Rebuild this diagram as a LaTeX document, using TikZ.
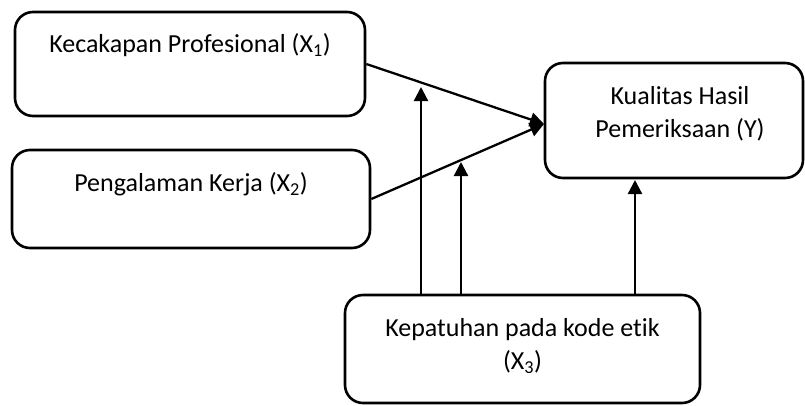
\documentclass[tikz,border=0pt]{standalone}
\usepackage{fontspec}
\setmainfont{Carlito}[Ligatures = NoCommon]
\usetikzlibrary{arrows.meta}
\begin{document}
\begin{tikzpicture}[x = 1pt, y = -1pt,
	box/.style = {draw, line width = 2.6pt, rounded corners = 18pt, inner sep = 0pt},
	arr/.style = {line width = 2.3pt, -{Triangle[length = 14pt, width = 14pt]}},
	every label/.style = {font = \fontsize{26}{33}\selectfont, align = center}]
				%	canvas
				\useasboundingbox (0, 0) rectangle (805, 405);
				
				%	boxes
				\node[box, minimum width = 350pt, minimum height = 104pt,
					label = {[yshift = 19pt]center:Kecakapan Profesional (X\textsubscript{1})}] (X1) at (190, 64) {};
				\node[box, minimum width = 358pt, minimum height = 98pt,
					label = {[yshift = 15pt]center:Pengalaman Kerja (X\textsubscript{2})}] (X2) at (191, 199) {};
				\node[box, minimum width = 258pt, minimum height = 115pt,
					label = {[xshift = 6pt, yshift = 7pt]center:Kualitas Hasil\\Pemeriksaan (Y)}] (Y) at (674, 120.5) {};
				\node[box, minimum width = 355pt, minimum height = 108pt,
					label = {[yshift = 3pt]center:Kepatuhan pada kode etik\\(X\textsubscript{3})}] (X3) at (522.5, 349) {};
				
				%	arrow ends
				\coordinate (Yin) at (544, 124);
				\coordinate (t1) at (421, 87);
				\coordinate (t2) at (461, 162);
				\coordinate (t3) at (635, 180);
				
				%	arrows
				\draw[arr] (X1.east) -- (Yin);
				\draw[arr] (X2.east) -- (Yin);
				\draw[arr] (X3.north -| t1) -- (t1);
				\draw[arr] (X3.north -| t2) -- (t2);
				\draw[arr] (X3.north -| t3) -- (t3);
\end{tikzpicture}
\end{document}
